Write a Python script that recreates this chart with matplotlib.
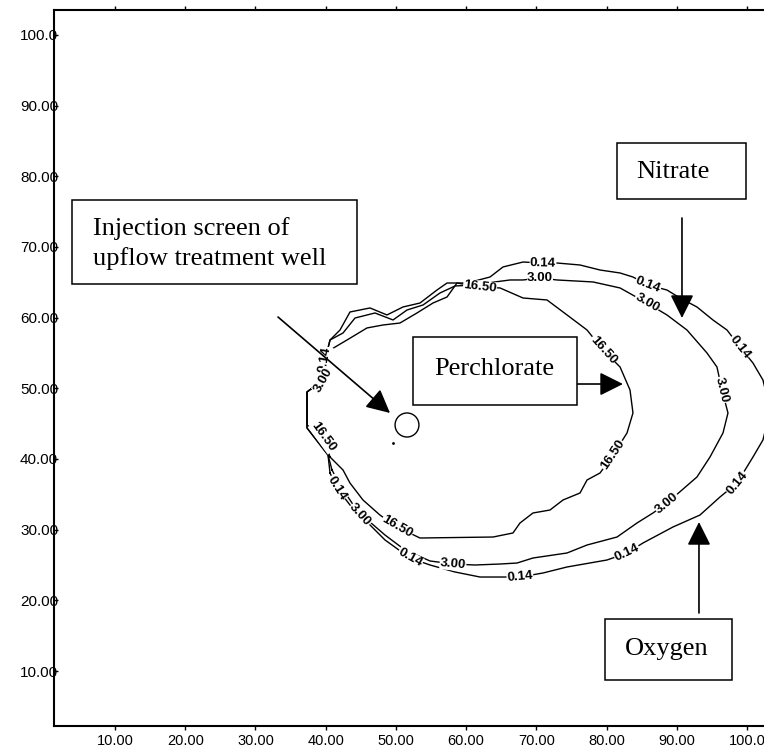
"""
Contour map of plume concentrations around an upflow treatment well.
"""
import numpy as np
import matplotlib
matplotlib.use('Agg')
import matplotlib.pyplot as plt
from matplotlib.patches import Rectangle, Ellipse

# ---- data (data units) ----
tick_vals = [10, 20, 30, 40, 50, 60, 70, 80, 90, 100]
tick_labels = ['10.00', '20.00', '30.00', '40.00', '50.00',
               '60.00', '70.00', '80.00', '90.00', '100.0']

# 0.14 contour
c014_x = [40.62, 40.33, 37.34, 37.34, 39.62, 39.90, 40.62, 42.04, 43.46, 46.31,
          48.73, 51.01, 53.43, 55.85, 57.28, 60.13, 63.40, 65.25, 68.10, 70.95,
          72.94, 76.22, 79.07, 81.92, 83.76, 85.90, 88.60, 90.46, 92.87, 95.15,
          97.15, 99.00, 100.85, 102.27, 103.30, 102.27, 100.85, 98.58, 96.15, 93.30,
          89.46, 85.18, 82.91, 80.07, 74.37, 70.95, 67.67, 64.83, 61.98, 58.42,
          54.86, 52.01, 48.45, 45.60, 43.46, 41.61, 40.62]
c014_y = [38.02, 40.56, 44.39, 49.48, 51.18, 54.01, 56.84, 58.25, 60.80, 61.37,
          60.38, 61.51, 62.07, 63.91, 64.90, 64.90, 65.75, 67.17, 67.87, 67.73,
          67.73, 67.45, 66.74, 66.32, 65.75, 64.62, 63.91, 62.78, 61.51, 59.67,
          58.25, 55.85, 53.58, 51.18, 46.90, 42.69, 40.28, 36.60, 34.62, 32.07,
          30.38, 28.11, 26.70, 25.71, 24.72, 23.87, 23.30, 23.30, 23.30, 24.01,
          25.00, 25.99, 28.54, 31.37, 33.49, 35.90, 38.02]

# 3.00 contour
c300_x = [40.90, 40.33, 37.34, 37.34, 39.62, 39.90, 40.62, 42.47, 44.18, 47.02,
          49.59, 51.58, 53.86, 56.28, 58.42, 61.26, 64.11, 66.25, 68.10, 70.52,
          72.94, 78.07, 81.92, 85.75, 88.60, 91.45, 94.30, 95.72, 96.44, 97.29,
          96.58, 94.73, 92.87, 88.60, 86.61, 84.33, 81.49, 77.22, 74.37, 69.52,
          67.25, 64.83, 61.26, 58.13, 54.86, 51.30, 48.45, 46.31, 44.89, 43.46,
          42.04, 40.90]
c300_y = [38.44, 40.56, 44.39, 49.48, 51.18, 54.01, 56.84, 57.83, 59.95, 60.66,
          59.67, 61.08, 61.79, 63.49, 64.48, 64.62, 65.05, 65.33, 65.33, 65.61,
          65.33, 65.05, 64.20, 62.07, 60.38, 58.25, 55.00, 53.02, 49.76, 46.51,
          43.68, 40.28, 37.45, 33.77, 32.36, 30.94, 28.96, 27.83, 26.70, 25.99,
          25.28, 25.14, 25.00, 25.14, 25.57, 27.12, 29.24, 31.08, 32.07, 34.20,
          36.32, 38.44]

# 16.50 contour
c1650_x = [40.62, 39.62, 37.34, 37.34, 39.62, 39.90, 40.62, 43.04, 45.88, 48.16,
           50.58, 53.00, 55.28, 57.28, 58.70, 61.98, 64.83, 68.10, 71.52, 74.37,
           77.22, 79.50, 81.92, 83.34, 83.76, 82.91, 80.92, 79.07, 77.22, 76.22,
           73.80, 71.94, 69.52, 67.67, 66.67, 63.83, 53.43, 50.16, 47.73, 45.31,
           43.46, 42.47, 40.62]
c1650_y = [40.28, 43.11, 44.81, 49.48, 51.18, 54.01, 55.42, 56.84, 58.54, 58.96,
           59.24, 60.66, 62.07, 62.92, 64.90, 64.34, 64.20, 62.78, 62.50, 60.38,
           58.25, 55.42, 53.02, 49.76, 46.51, 43.68, 40.56, 38.02, 37.03, 35.19,
           34.20, 32.78, 32.36, 30.94, 29.53, 28.96, 28.82, 30.38, 32.07, 34.20,
           36.60, 38.44, 40.28]

# where the contour labels sit
lab014 = [(70.95, 67.73), (85.90, 64.62), (99.00, 55.85), (98.58, 36.60),
          (82.91, 26.70), (67.67, 23.30), (52.01, 25.99), (41.61, 35.90), (39.90, 54.01)]
lab300 = [(70.52, 65.61), (85.75, 62.07), (96.44, 49.76), (88.60, 33.77),
          (58.13, 25.14), (44.89, 32.07), (39.62, 51.18)]
lab1650 = [(61.98, 64.34), (79.50, 55.42), (80.92, 40.56), (50.16, 30.38), (39.62, 43.11)]

contours = [
    (c014_x, c014_y, '0.14', lab014),
    (c300_x, c300_y, '3.00', lab300),
    (c1650_x, c1650_y, '16.50', lab1650),
]

fig = plt.figure(figsize=(7.64, 7.47), dpi=100)
ax = fig.add_axes([54 / 764, 21 / 747, 710 / 764, 716 / 747])
ax.set_xlim(1.31, 102.42)
ax.set_ylim(2.22, 103.53)

for xs, ys, txt, labs in contours:
    ax.plot(xs, ys, color='black', linewidth=1.0, zorder=2)

# contour labels, rotated along the line
for xs, ys, txt, labs in contours:
    pts = ax.transData.transform(np.column_stack([xs, ys]))
    for lx, ly in labs:
        i = int(np.argmin((np.array(xs) - lx) ** 2 + (np.array(ys) - ly) ** 2))
        a = pts[max(i - 1, 0)]
        b = pts[min(i + 1, len(xs) - 1)]
        ang = np.degrees(np.arctan2(b[1] - a[1], b[0] - a[0]))
        if ang > 90:
            ang -= 180
        elif ang <= -90:
            ang += 180
        ax.text(lx, ly, txt, rotation=ang, rotation_mode='anchor', ha='center', va='center',
                fontsize=9.5, fontweight='bold', family='Liberation Sans',
                bbox=dict(fc='white', ec='none', pad=0.3), zorder=3)

# annotation boxes
box_font = dict(family='Liberation Serif', fontsize=19, zorder=6)
boxes = [
    (3.87, 64.76, 44.46, 76.65),
    (81.49, 76.79, 99.86, 84.71),
    (52.43, 47.64, 75.79, 57.26),
    (79.78, 8.73, 97.87, 17.36),
]
for x0, y0, x1, y1 in boxes:
    ax.add_patch(Rectangle((x0, y0), x1 - x0, y1 - y0, fc='white', ec='black',
                           lw=1.1, zorder=5))

ax.text(6.87, 70.5, 'Injection screen of\nupflow treatment well', ha='left', va='center',
        linespacing=1.35, **box_font)
ax.text(89.5, 80.6, 'Nitrate', ha='center', va='center', **box_font)
ax.text(64.0, 52.7, 'Perchlorate', ha='center', va='center', **box_font)
ax.text(88.6, 13.1, 'Oxygen', ha='center', va='center', **box_font)

# arrows
arrow_kw = dict(arrowstyle='-|>,head_length=0.8,head_width=0.4', mutation_scale=18,
                color='black', lw=1.2, shrinkA=0, shrinkB=0)
arrows = [
    ((33.21, 60.09), (49.16, 46.51)),
    ((90.74, 74.10), (90.74, 59.95)),
    ((74.51, 50.61), (82.34, 50.61)),
    ((93.16, 18.21), (93.16, 31.08)),
]
for start, tip in arrows:
    ax.annotate('', xy=tip, xytext=start, arrowprops=arrow_kw, zorder=4)

# well screen marker
ax.add_patch(Ellipse((51.58, 44.81), 3.4, 3.4, fc='white', ec='black', lw=1.0, zorder=4))
ax.plot([49.59], [42.27], marker='.', markersize=2, color='black')

# axes styling
for side in ['left', 'top', 'bottom']:
    ax.spines[side].set_linewidth(1.5)
ax.spines['right'].set_visible(False)

ax.set_xticks(tick_vals)
ax.set_xticklabels(tick_labels, family='Liberation Sans', fontsize=10.5)
ax.set_yticks(tick_vals)
ax.set_yticklabels(tick_labels, family='Liberation Sans', fontsize=11)
ax.tick_params(axis='x', which='both', top=True, bottom=True, direction='out',
               length=3, width=1, pad=3)
ax.tick_params(axis='y', which='both', left=True, right=False, direction='in',
               length=3, width=1, pad=-3)

fig.savefig('out.png', dpi=100)
